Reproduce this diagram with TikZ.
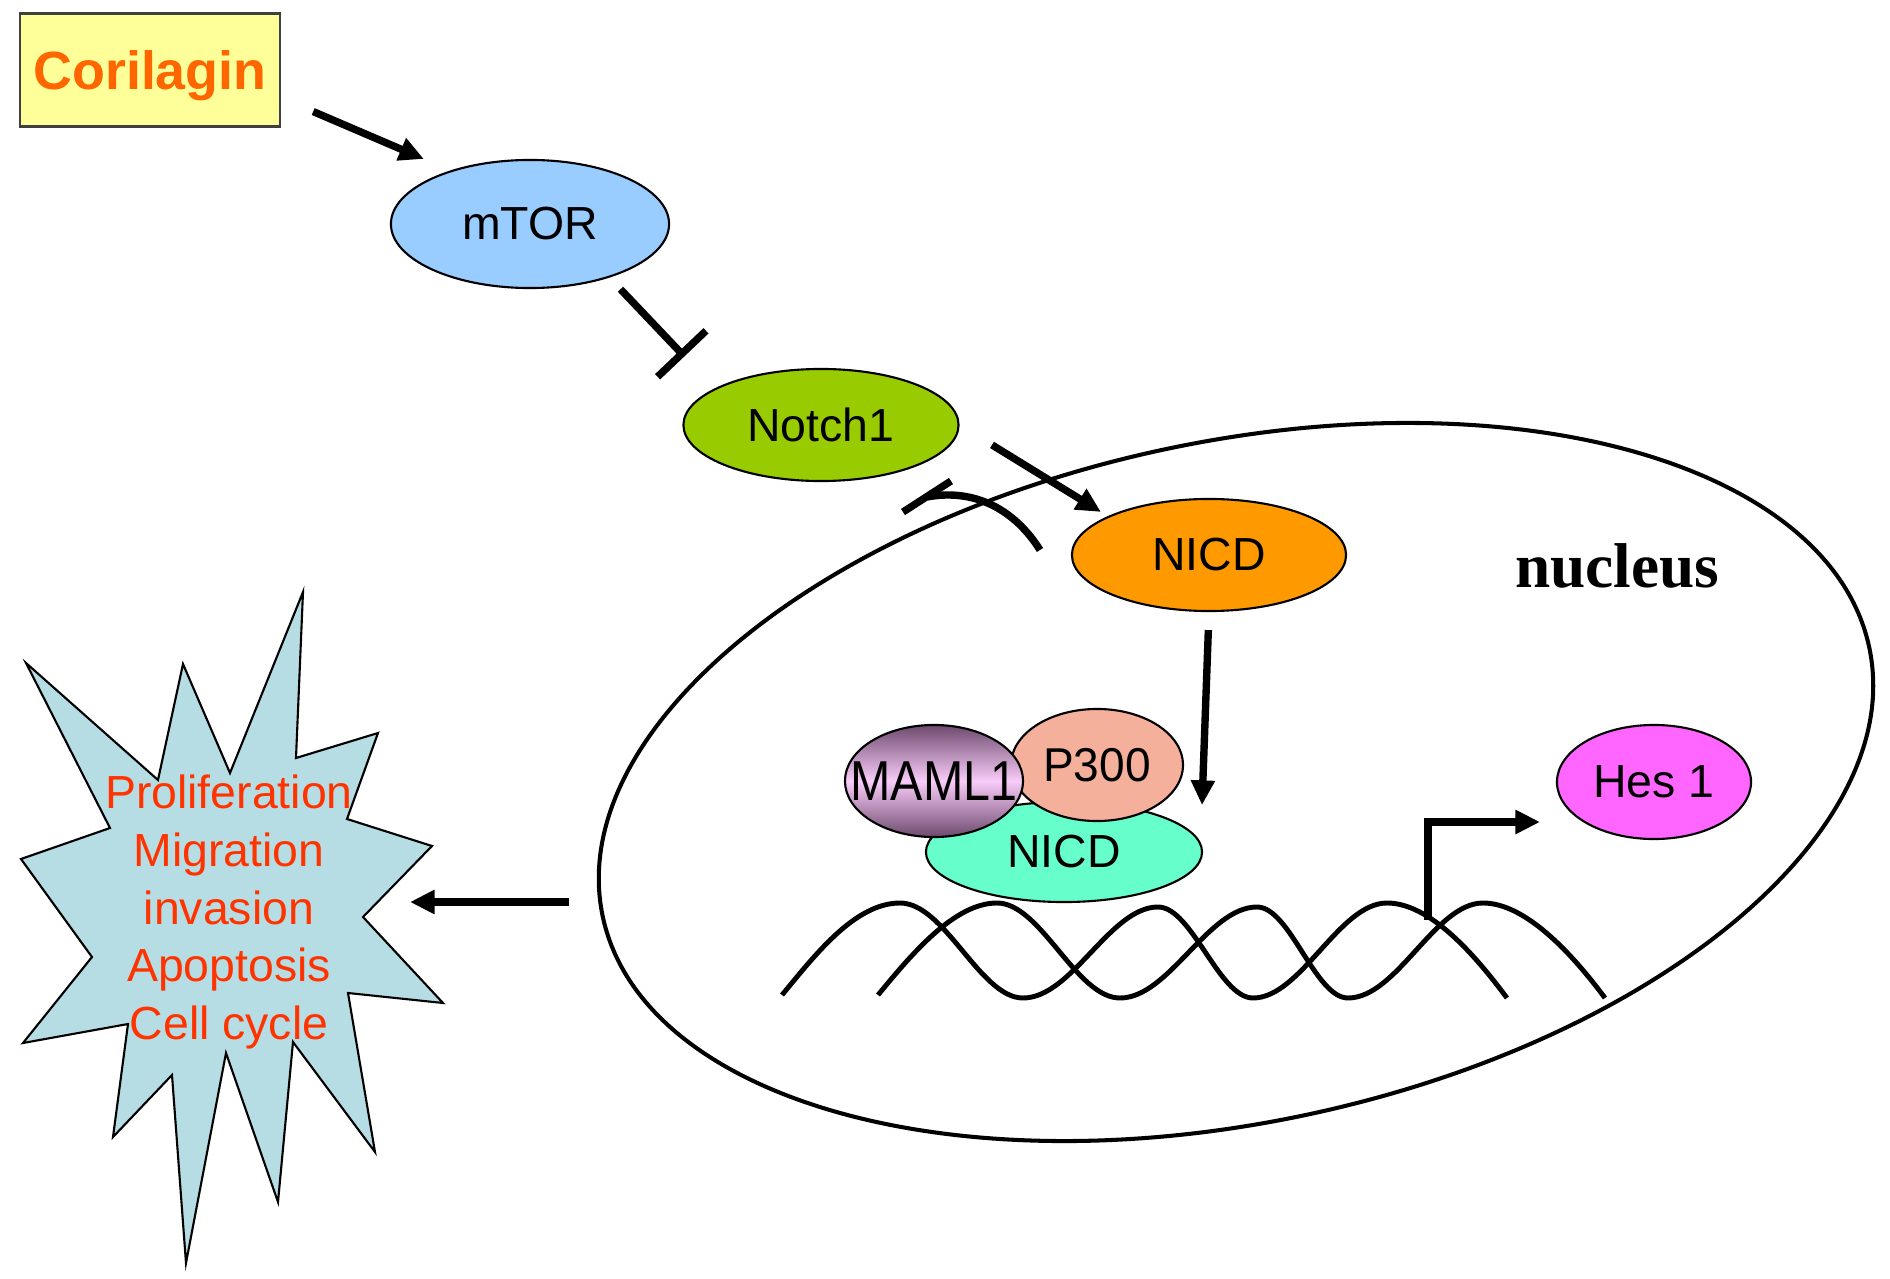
\documentclass[tikz,border=0pt]{standalone}
\usepackage{fontspec}
\setmainfont{Liberation Sans}
\newfontfamily\timesfont{Liberation Serif}
\usepackage{graphicx}
\usepackage{tikz}
\usetikzlibrary{shapes.geometric,arrows.meta}
\definecolor{corfill}{HTML}{FFFF99}
\definecolor{corfont}{HTML}{FF6600}
\definecolor{mtorblue}{HTML}{99CCFF}
\definecolor{notchgreen}{HTML}{99CC00}
\definecolor{nicdorange}{HTML}{FF9900}
\definecolor{nicdgreen}{HTML}{66FFCC}
\definecolor{psalmon}{HTML}{F5B09C}
\definecolor{mamldark}{HTML}{6E4A6E}
\definecolor{mamllight}{HTML}{F8CCF8}
\definecolor{hespink}{HTML}{FF66FF}
\definecolor{burstblue}{HTML}{B6DDE4}
\definecolor{fxred}{HTML}{FF3300}
\tikzset{prot/.style={ellipse,draw,line width=0.6pt,inner sep=0pt,
                      font=\fontsize{13.2pt}{16pt}\selectfont},
         act/.style={line width=2.1pt,-{Triangle[length=7pt,width=6.5pt]}},
         inh/.style={line width=2.1pt,-{Bar[width=19pt]}},
         strand/.style={line width=1.4pt}}

\begin{document}
\begin{tikzpicture}[x=0.01cm,y=-0.01cm]
            \useasboundingbox (0,0) rectangle (1890,1279);
            \draw[line width=1.15pt,rotate around={12:(1236,782)}] (1236,782) ellipse (6.47cm and 3.4cm);
            \draw[strand] (782,995) .. controls (815,955) and (855,903) .. (900,903)
                  .. controls (945,903) and (980,998) .. (1023,998)
                  .. controls (1072,998) and (1110,907) .. (1158,907)
                  .. controls (1192,907) and (1219,998) .. (1253,998)
                  .. controls (1301,998) and (1339,903) .. (1387,903)
                  .. controls (1430,903) and (1475,955) .. (1507,998);
            \draw[strand] (878,995) .. controls (911,955) and (954,903) .. (997,903)
                  .. controls (1041,903) and (1076,998) .. (1120,998)
                  .. controls (1169,998) and (1208,907) .. (1257,907)
                  .. controls (1290,907) and (1315,998) .. (1348,998)
                  .. controls (1397,998) and (1435,903) .. (1483,903)
                  .. controls (1526,903) and (1573,955) .. (1605,998);
            \coordinate (tss) at (1428,920);
            \coordinate (tssend) at (1540,822);
            \draw[act] (tss) |- (tssend);
            \node[draw=black!75,line width=0.8pt,fill=corfill,minimum width=2.6cm,minimum height=1.13cm,text depth=0pt,
                  font=\fontsize{15.3pt}{18pt}\selectfont\bfseries,text=corfont] (cor) at (150,70) {Corilagin};
            \node[prot,fill=mtorblue,minimum width=2.78cm,minimum height=1.28cm] (mtor) at (530,224) {mTOR};
            \node[prot,fill=notchgreen,minimum width=2.75cm,minimum height=1.12cm] (notch) at (821,425) {Notch1};
            \node[prot,fill=nicdorange,minimum width=2.74cm,minimum height=1.12cm] (nicd) at (1209,555) {NICD};
            \node[prot,fill=nicdgreen,minimum width=2.76cm,minimum height=1cm] (nicdb) at (1064,852) {NICD};
            \node[prot,fill=psalmon,minimum width=1.72cm,minimum height=1.12cm,
                  font=\fontsize{13.5pt}{16pt}\selectfont] (p300) at (1097,765) {\scalebox{.97}[1]{P300}};
            \node[prot,top color=mamldark,bottom color=mamldark,middle color=mamllight,minimum width=1.78cm,
                  minimum height=1.12cm,font=\fontsize{16pt}{18pt}\selectfont] (maml) at (934,781)
                  {\makebox[0pt]{\scalebox{.86}[1]{MAML1}}};
            \node[prot,fill=hespink,minimum width=1.94cm,minimum height=1.14cm] (hes) at (1654,782) {Hes 1};
            \node[font=\timesfont\fontsize{18pt}{20pt}\selectfont\bfseries] (nuc) at (1617,566) {nucleus};
            \coordinate (dock) at (1202,805);
            \draw[act,shorten <=0.345cm,shorten >=0.29cm] (cor.-12) -- (mtor.146);
            \draw[inh,shorten <=0.16cm,shorten >=0.44cm] (mtor.-34) -- (notch.161);
            \draw[act,shorten <=0.38cm,shorten >=0.08cm] (notch.east) -- (nicd.159);
            \draw[act,shorten <=0.18cm] (nicd.south) -- (dock);
            \coordinate (gs) at (1040,550);
            \coordinate (gsbar) at (927,497);
            \draw[line width=2.1pt] (gs) .. controls (1015,510) and (975,488) .. (gsbar);
            \draw[line width=2.1pt] (gsbar) ++(-24,15) -- ++(48,-31);
            \draw[fill=burstblue,line width=0.6pt] (303,592) -- (296,758) -- (378,733) -- (347,819) -- (432,846)
                  -- (363,917) -- (443,1003) -- (348,993) -- (375,1152) -- (293,1042) -- (278,1202)
                  -- (226,1053) -- (186,1263) -- (172,1075) -- (113,1137) -- (128,1024) -- (23,1043)
                  -- (92,957) -- (21,859) -- (110,828) -- (26,663) -- (158,780) -- (183,664) -- (230,773) -- cycle;
            \node[align=center,text=fxred,font=\fontsize{13.2pt}{16.4pt}\selectfont] (fx) at (229,912)
                  {Proliferation\\Migration\\invasion\\Apoptosis\\Cell cycle};
            \coordinate (nucout) at (569,902);
            \coordinate (fxin) at (410,902);
            \draw[act] (nucout) -- (fxin);
        \end{tikzpicture}
\end{document}
